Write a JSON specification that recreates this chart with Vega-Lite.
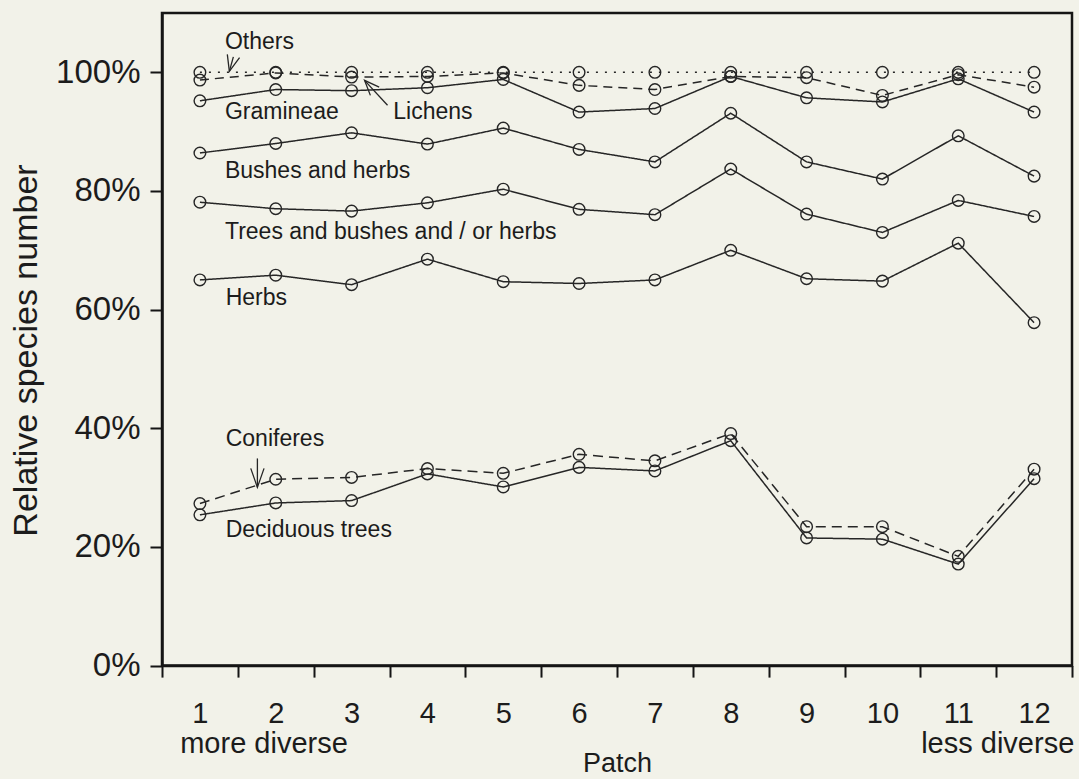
{
  "$schema": "https://vega.github.io/schema/vega-lite/v6.json",
  "width": 910,
  "height": 652.5,
  "autosize": "none",
  "padding": {"left": 162, "top": 13, "right": 7, "bottom": 113.5},
  "background": "#f2f2e9",
  "config": {
    "view": {"stroke": "#151515", "strokeWidth": 2.5},
    "font": "Liberation Sans",
    "text": {"font": "Liberation Sans", "color": "#1c1c1c"},
    "axis": {
      "grid": false,
      "domainColor": "#151515",
      "domainWidth": 2.5,
      "tickColor": "#151515",
      "tickWidth": 2,
      "labelColor": "#1c1c1c",
      "titleColor": "#1c1c1c",
      "labelFont": "Liberation Sans",
      "titleFont": "Liberation Sans",
      "titleFontWeight": "normal",
      "labelFlush": false,
      "labelBound": false,
      "labelOverlap": false
    }
  },
  "datasets": {
    "series": [
      {"patch": 1, "group": "Others", "share": 100}, {"patch": 2, "group": "Others", "share": 100}, {"patch": 3, "group": "Others", "share": 100}, {"patch": 4, "group": "Others", "share": 100}, {"patch": 5, "group": "Others", "share": 100}, {"patch": 6, "group": "Others", "share": 100}, {"patch": 7, "group": "Others", "share": 100}, {"patch": 8, "group": "Others", "share": 100}, {"patch": 9, "group": "Others", "share": 100}, {"patch": 10, "group": "Others", "share": 100}, {"patch": 11, "group": "Others", "share": 100}, {"patch": 12, "group": "Others", "share": 100},
      {"patch": 1, "group": "Lichens", "share": 98.7}, {"patch": 2, "group": "Lichens", "share": 99.9}, {"patch": 3, "group": "Lichens", "share": 99.2}, {"patch": 4, "group": "Lichens", "share": 99.3}, {"patch": 5, "group": "Lichens", "share": 99.9}, {"patch": 6, "group": "Lichens", "share": 97.8}, {"patch": 7, "group": "Lichens", "share": 97.1}, {"patch": 8, "group": "Lichens", "share": 99.3}, {"patch": 9, "group": "Lichens", "share": 99.1}, {"patch": 10, "group": "Lichens", "share": 96.1}, {"patch": 11, "group": "Lichens", "share": 99.6}, {"patch": 12, "group": "Lichens", "share": 97.5},
      {"patch": 1, "group": "Gramineae", "share": 95.2}, {"patch": 2, "group": "Gramineae", "share": 97.1}, {"patch": 3, "group": "Gramineae", "share": 96.9}, {"patch": 4, "group": "Gramineae", "share": 97.4}, {"patch": 5, "group": "Gramineae", "share": 98.8}, {"patch": 6, "group": "Gramineae", "share": 93.3}, {"patch": 7, "group": "Gramineae", "share": 93.9}, {"patch": 8, "group": "Gramineae", "share": 99.3}, {"patch": 9, "group": "Gramineae", "share": 95.7}, {"patch": 10, "group": "Gramineae", "share": 95.0}, {"patch": 11, "group": "Gramineae", "share": 98.9}, {"patch": 12, "group": "Gramineae", "share": 93.3},
      {"patch": 1, "group": "Bushes and herbs", "share": 86.4}, {"patch": 2, "group": "Bushes and herbs", "share": 88.0}, {"patch": 3, "group": "Bushes and herbs", "share": 89.8}, {"patch": 4, "group": "Bushes and herbs", "share": 87.9}, {"patch": 5, "group": "Bushes and herbs", "share": 90.6}, {"patch": 6, "group": "Bushes and herbs", "share": 87.0}, {"patch": 7, "group": "Bushes and herbs", "share": 84.9}, {"patch": 8, "group": "Bushes and herbs", "share": 93.1}, {"patch": 9, "group": "Bushes and herbs", "share": 84.9}, {"patch": 10, "group": "Bushes and herbs", "share": 82.0}, {"patch": 11, "group": "Bushes and herbs", "share": 89.3}, {"patch": 12, "group": "Bushes and herbs", "share": 82.5},
      {"patch": 1, "group": "Trees and bushes and / or herbs", "share": 78.1}, {"patch": 2, "group": "Trees and bushes and / or herbs", "share": 77.0}, {"patch": 3, "group": "Trees and bushes and / or herbs", "share": 76.6}, {"patch": 4, "group": "Trees and bushes and / or herbs", "share": 78.0}, {"patch": 5, "group": "Trees and bushes and / or herbs", "share": 80.3}, {"patch": 6, "group": "Trees and bushes and / or herbs", "share": 76.9}, {"patch": 7, "group": "Trees and bushes and / or herbs", "share": 76.0}, {"patch": 8, "group": "Trees and bushes and / or herbs", "share": 83.7}, {"patch": 9, "group": "Trees and bushes and / or herbs", "share": 76.1}, {"patch": 10, "group": "Trees and bushes and / or herbs", "share": 73.0}, {"patch": 11, "group": "Trees and bushes and / or herbs", "share": 78.4}, {"patch": 12, "group": "Trees and bushes and / or herbs", "share": 75.7},
      {"patch": 1, "group": "Herbs", "share": 65.0}, {"patch": 2, "group": "Herbs", "share": 65.8}, {"patch": 3, "group": "Herbs", "share": 64.2}, {"patch": 4, "group": "Herbs", "share": 68.5}, {"patch": 5, "group": "Herbs", "share": 64.7}, {"patch": 6, "group": "Herbs", "share": 64.4}, {"patch": 7, "group": "Herbs", "share": 65.0}, {"patch": 8, "group": "Herbs", "share": 70.0}, {"patch": 9, "group": "Herbs", "share": 65.2}, {"patch": 10, "group": "Herbs", "share": 64.8}, {"patch": 11, "group": "Herbs", "share": 71.2}, {"patch": 12, "group": "Herbs", "share": 57.8},
      {"patch": 1, "group": "Coniferes", "share": 27.3}, {"patch": 2, "group": "Coniferes", "share": 31.4}, {"patch": 3, "group": "Coniferes", "share": 31.7}, {"patch": 4, "group": "Coniferes", "share": 33.2}, {"patch": 5, "group": "Coniferes", "share": 32.4}, {"patch": 6, "group": "Coniferes", "share": 35.6}, {"patch": 7, "group": "Coniferes", "share": 34.5}, {"patch": 8, "group": "Coniferes", "share": 39.1}, {"patch": 9, "group": "Coniferes", "share": 23.4}, {"patch": 10, "group": "Coniferes", "share": 23.4}, {"patch": 11, "group": "Coniferes", "share": 18.4}, {"patch": 12, "group": "Coniferes", "share": 33.1},
      {"patch": 1, "group": "Deciduous trees", "share": 25.4}, {"patch": 2, "group": "Deciduous trees", "share": 27.4}, {"patch": 3, "group": "Deciduous trees", "share": 27.8}, {"patch": 4, "group": "Deciduous trees", "share": 32.3}, {"patch": 5, "group": "Deciduous trees", "share": 30.1}, {"patch": 6, "group": "Deciduous trees", "share": 33.4}, {"patch": 7, "group": "Deciduous trees", "share": 32.8}, {"patch": 8, "group": "Deciduous trees", "share": 37.9}, {"patch": 9, "group": "Deciduous trees", "share": 21.5}, {"patch": 10, "group": "Deciduous trees", "share": 21.3}, {"patch": 11, "group": "Deciduous trees", "share": 17.1}, {"patch": 12, "group": "Deciduous trees", "share": 31.5}
    ],
    "notes": [
      {"x": 1.33, "y": 105.1, "text": "Others"},
      {"x": 1.33, "y": 93.3, "text": "Gramineae"},
      {"x": 3.55, "y": 93.3, "text": "Lichens"},
      {"x": 1.33, "y": 83.4, "text": "Bushes and herbs"},
      {"x": 1.33, "y": 73.1, "text": "Trees and bushes and / or herbs"},
      {"x": 1.34, "y": 62.0, "text": "Herbs"},
      {"x": 1.34, "y": 38.1, "text": "Coniferes"},
      {"x": 1.34, "y": 22.9, "text": "Deciduous trees"}
    ],
    "captions": [
      {"x": 0.74, "y": -14.74, "text": "more diverse", "side": "left"},
      {"x": 12.53, "y": -14.74, "text": "less diverse", "side": "right"}
    ],
    "arrows": [
      {"arrow": "Others", "x": 1.441, "y": 102.6, "x2": 1.388, "y2": 100.17},
      {"arrow": "Lichens", "x": 3.474, "y": 94.44, "x2": 3.171, "y2": 98.65},
      {"arrow": "Coniferes", "x": 1.758, "y": 34.91, "x2": 1.758, "y2": 30.03}
    ]
  },
  "encoding": {
    "x": {
      "field": "patch",
      "type": "quantitative",
      "scale": {"domain": [0.5, 12.5], "nice": false, "zero": false},
      "axis": {
        "values": [0.5, 1.5, 2.5, 3.5, 4.5, 5.5, 6.5, 7.5, 8.5, 9.5, 10.5, 11.5, 12.5],
        "labelExpr": "datum.value < 12 ? format(datum.value + 0.5, 'd') : ''",
        "labelOffset": 37.9,
        "tickSize": 11.6,
        "labelPadding": 22,
        "labelFontSize": 29,
        "title": "Patch",
        "titleFontSize": 27,
        "titleY": 105.5,
        "titleBaseline": "alphabetic"
      }
    },
    "y": {
      "field": "share",
      "type": "quantitative",
      "scale": {"domain": [0, 110], "nice": false},
      "axis": {
        "values": [0, 20, 40, 60, 80, 100],
        "labelExpr": "datum.value + '%'",
        "tickSize": 12,
        "labelPadding": 10,
        "labelFontSize": 33,
        "title": "Relative species number",
        "titleFontSize": 34,
        "titleX": -136,
        "titleY": 337,
        "titleAlign": "center",
        "titleBaseline": "middle",
        "titleAngle": -90
      }
    }
  },
  "layer": [
    {
      "data": {"name": "series"},
      "mark": {"type": "line", "strokeWidth": 1.5, "color": "#262626"},
      "encoding": {
        "detail": {"field": "group"},
        "strokeDash": {
          "field": "group",
          "type": "nominal",
          "legend": null,
          "scale": {
            "domain": ["Others", "Lichens", "Gramineae", "Bushes and herbs", "Trees and bushes and / or herbs", "Herbs", "Coniferes", "Deciduous trees"],
            "range": [[2, 7], [9, 6], [1, 0], [1, 0], [1, 0], [1, 0], [10, 6], [1, 0]]
          }
        }
      }
    },
    {
      "data": {"name": "series"},
      "mark": {"type": "point", "shape": "circle", "filled": false, "size": 135, "strokeWidth": 1.4, "color": "#262626", "opacity": 1}
    },
    {
      "data": {"name": "arrows"},
      "mark": {"type": "rule", "strokeWidth": 1.3, "color": "#262626"},
      "encoding": {
        "x": {"field": "x", "type": "quantitative"},
        "y": {"field": "y", "type": "quantitative"},
        "x2": {"field": "x2"},
        "y2": {"field": "y2"}
      }
    },
    {
      "data": {"name": "arrows"},
      "transform": [{"filter": "datum.arrow === 'Others'"}],
      "mark": {"type": "point", "shape": "M-0.4,-1L0,0L0.4,-1", "filled": false, "size": 1000, "strokeWidth": 1.3, "color": "#262626", "opacity": 1, "angle": 15},
      "encoding": {
        "x": {"field": "x2", "type": "quantitative"},
        "y": {"field": "y2", "type": "quantitative"}
      }
    },
    {
      "data": {"name": "arrows"},
      "transform": [{"filter": "datum.arrow === 'Lichens'"}],
      "mark": {"type": "point", "shape": "M-0.4,-1L0,0L0.4,-1", "filled": false, "size": 900, "strokeWidth": 1.3, "color": "#262626", "opacity": 1, "angle": 137},
      "encoding": {
        "x": {"field": "x2", "type": "quantitative"},
        "y": {"field": "y2", "type": "quantitative"}
      }
    },
    {
      "data": {"name": "arrows"},
      "transform": [{"filter": "datum.arrow === 'Coniferes'"}],
      "mark": {"type": "point", "shape": "M-0.35,-1L0,0L0.35,-1", "filled": false, "size": 1444, "strokeWidth": 1.3, "color": "#262626", "opacity": 1, "angle": 0},
      "encoding": {
        "x": {"field": "x2", "type": "quantitative"},
        "y": {"field": "y2", "type": "quantitative"}
      }
    },
    {
      "data": {"name": "notes"},
      "mark": {"type": "text", "align": "left", "baseline": "middle", "fontSize": 23},
      "encoding": {
        "x": {"field": "x", "type": "quantitative"},
        "y": {"field": "y", "type": "quantitative"},
        "text": {"field": "text"}
      }
    },
    {
      "data": {"name": "captions"},
      "transform": [{"filter": "datum.side === 'left'"}],
      "mark": {"type": "text", "align": "left", "baseline": "alphabetic", "fontSize": 29},
      "encoding": {
        "x": {"field": "x", "type": "quantitative"},
        "y": {"field": "y", "type": "quantitative"},
        "text": {"field": "text"}
      }
    },
    {
      "data": {"name": "captions"},
      "transform": [{"filter": "datum.side === 'right'"}],
      "mark": {"type": "text", "align": "right", "baseline": "alphabetic", "fontSize": 29},
      "encoding": {
        "x": {"field": "x", "type": "quantitative"},
        "y": {"field": "y", "type": "quantitative"},
        "text": {"field": "text"}
      }
    }
  ]
}
